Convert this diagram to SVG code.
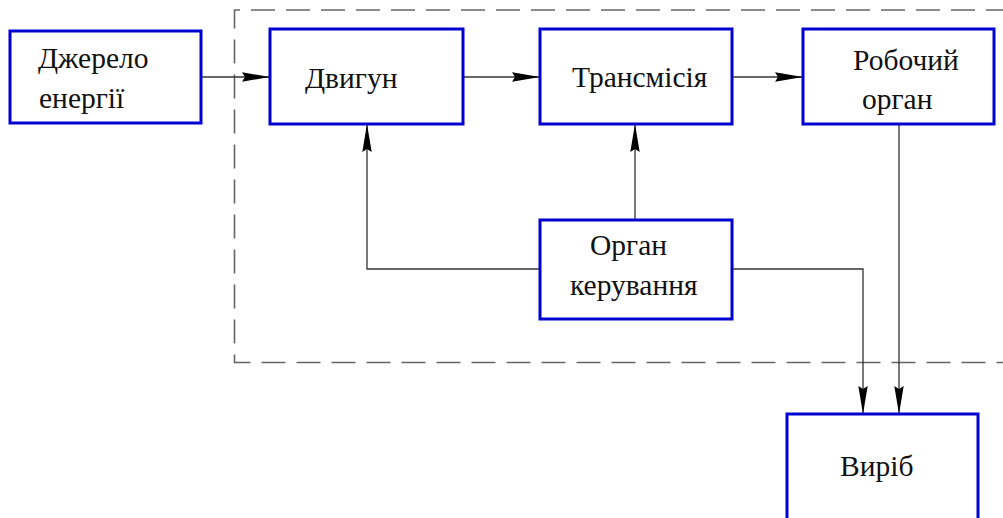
<svg xmlns="http://www.w3.org/2000/svg" width="1003" height="518" viewBox="0 0 1003 518">
  <style>
    .box { fill: #ffffff; stroke: #0000d0; stroke-width: 3; }
    .lbl { font-family: "Liberation Serif", "Times New Roman", serif; font-size: 29.5px; fill: #111111; }
    .wire { fill: none; stroke: #333333; stroke-width: 1.3; }
    .frame { fill: none; stroke: #666666; stroke-width: 1.6; stroke-dasharray: 24 11; }
  </style>
  <defs>
    <marker id="arrow" markerUnits="userSpaceOnUse" markerWidth="30" markerHeight="12" refX="28" refY="5.5" orient="auto">
      <path d="M0,0.8 L28,5.5 L0,10.2 L3,5.5 Z" fill="#000000"/>
    </marker>
  </defs>
  <rect width="1003" height="518" fill="#ffffff"/>

  <!-- dashed boundary of the machine -->
  <path class="frame" d="M1010,10 H234.5 V362.5 H1010"/>

  <!-- connectors -->
  <g id="connectors">
    <path class="wire" d="M201,77 H270" marker-end="url(#arrow)"/>
    <path class="wire" d="M463,77 H540" marker-end="url(#arrow)"/>
    <path class="wire" d="M732,77 H803" marker-end="url(#arrow)"/>
    <path class="wire" d="M540,269 H367 V124" marker-end="url(#arrow)"/>
    <path class="wire" d="M635,220 V124" marker-end="url(#arrow)"/>
    <path class="wire" d="M732,269 H863 V414" marker-end="url(#arrow)"/>
    <path class="wire" d="M899,124 V414" marker-end="url(#arrow)"/>
  </g>

  <g id="source">
    <rect class="box" x="10" y="31" width="191" height="92"/>
    <text class="lbl" x="38" y="68">Джерело</text>
    <text class="lbl" x="39" y="108">енергії</text>
  </g>

  <g id="engine">
    <rect class="box" x="270" y="29" width="193" height="95"/>
    <text class="lbl" x="305" y="88">Двигун</text>
  </g>

  <g id="transmission">
    <rect class="box" x="540" y="29" width="192" height="95"/>
    <text class="lbl" x="572" y="87">Трансмісія</text>
  </g>

  <g id="working-body">
    <rect class="box" x="803" y="29" width="191" height="95"/>
    <text class="lbl" x="853" y="70">Робочий</text>
    <text class="lbl" x="862" y="109">орган</text>
  </g>

  <g id="control">
    <rect class="box" x="540" y="220" width="192" height="99"/>
    <text class="lbl" x="590" y="255">Орган</text>
    <text class="lbl" x="570" y="295">керування</text>
  </g>

  <g id="product">
    <rect class="box" x="787" y="414" width="191" height="120"/>
    <text class="lbl" x="840" y="476">Виріб</text>
  </g>
</svg>
